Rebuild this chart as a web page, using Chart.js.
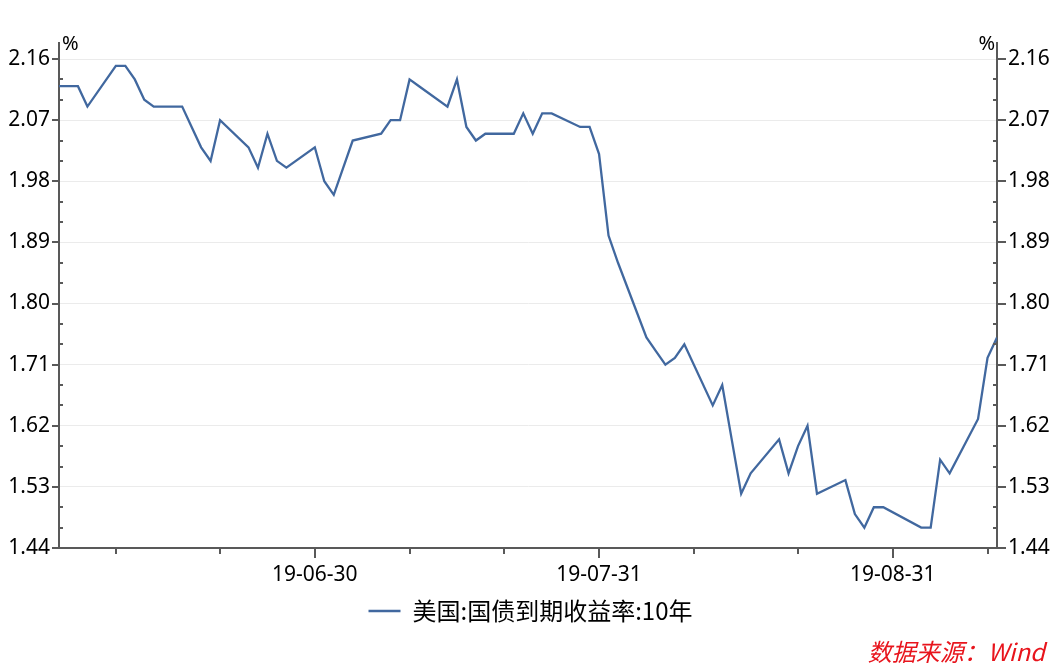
<!DOCTYPE html>
<html>
<head>
<meta charset="utf-8">
<script src="https://cdn.jsdelivr.net/npm/chart.js@4.4.1/dist/chart.umd.min.js"></script>
<style>
  html, body { margin: 0; padding: 0; background: #fff; }
  #wrap { position: relative; width: 1061px; height: 665px; }
  #source {
    position: absolute; right: 16px; top: 633px;
    color: #e8141c; font: italic 24px "Noto Sans CJK SC", sans-serif;
    white-space: nowrap;
  }
</style>
</head>
<body>
<div id="wrap">
  <canvas id="chart" width="1061" height="665"></canvas>
  <div id="source">数据来源：Wind</div>
</div>
<script>
// trading days and 10y yield (%)
const dates = [
  '2019-06-04','2019-06-05','2019-06-06','2019-06-07',
  '2019-06-10','2019-06-11','2019-06-12','2019-06-13','2019-06-14',
  '2019-06-17','2019-06-18','2019-06-19','2019-06-20','2019-06-21',
  '2019-06-24','2019-06-25','2019-06-26','2019-06-27','2019-06-28',
  '2019-07-01','2019-07-02','2019-07-03','2019-07-05',
  '2019-07-08','2019-07-09','2019-07-10','2019-07-11','2019-07-12',
  '2019-07-15','2019-07-16','2019-07-17','2019-07-18','2019-07-19',
  '2019-07-22','2019-07-23','2019-07-24','2019-07-25','2019-07-26',
  '2019-07-29','2019-07-30','2019-07-31','2019-08-01','2019-08-02',
  '2019-08-05','2019-08-06','2019-08-07','2019-08-08','2019-08-09',
  '2019-08-12','2019-08-13','2019-08-14','2019-08-15','2019-08-16',
  '2019-08-19','2019-08-20','2019-08-21','2019-08-22','2019-08-23',
  '2019-08-26','2019-08-27','2019-08-28','2019-08-29','2019-08-30',
  '2019-09-03','2019-09-04','2019-09-05','2019-09-06',
  '2019-09-09','2019-09-10','2019-09-11'
];
const yields = [
  2.12, 2.12, 2.12, 2.09,
  2.15, 2.15, 2.13, 2.10, 2.09,
  2.09, 2.06, 2.03, 2.01, 2.07,
  2.03, 2.00, 2.05, 2.01, 2.00,
  2.03, 1.98, 1.96, 2.04,
  2.05, 2.07, 2.07, 2.13, 2.12,
  2.09, 2.13, 2.06, 2.04, 2.05,
  2.05, 2.08, 2.05, 2.08, 2.08,
  2.06, 2.06, 2.02, 1.90, 1.86,
  1.75, 1.73, 1.71, 1.72, 1.74,
  1.65, 1.68, 1.60, 1.52, 1.55,
  1.60, 1.55, 1.59, 1.62, 1.52,
  1.54, 1.49, 1.47, 1.50, 1.50,
  1.47, 1.47, 1.57, 1.55,
  1.63, 1.72, 1.75
];

const seriesName = '美国:国债到期收益率:10年';
const yMajor = [1.44, 1.53, 1.62, 1.71, 1.80, 1.89, 1.98, 2.07, 2.16];
const yMinor = [1.47, 1.50, 1.56, 1.59, 1.65, 1.68, 1.74, 1.77, 1.83, 1.86, 1.92, 1.95, 2.01, 2.04, 2.10, 2.13];
const xMajorDates = ['2019-07-01', '2019-07-31', '2019-08-31'];
const xMajorLabels = ['19-06-30', '19-07-31', '19-08-31'];
const xMinorDates = ['2019-06-10', '2019-06-21', '2019-07-11', '2019-07-21', '2019-08-10', '2019-08-21', '2019-09-10'];

const dayNum = d => Date.parse(d) / 86400000;
const points = dates.map((d, i) => ({ x: dayNum(d), y: yields[i] }));

const axisColor = '#595959';
const lineColor = '#41689f';

// tick marks (major outside, minor inside on y) and the % units
const axisMarks = {
  id: 'axisMarks',
  afterDraw(chart) {
    const { ctx, chartArea: a } = chart;
    const ys = chart.scales.y, xs = chart.scales.x;
    ctx.save();
    ctx.strokeStyle = axisColor;
    ctx.lineWidth = 2;
    ctx.beginPath();
    yMajor.forEach(v => {
      const p = Math.round(ys.getPixelForValue(v));
      ctx.moveTo(a.left - 7, p); ctx.lineTo(a.left, p);
      ctx.moveTo(a.right, p); ctx.lineTo(a.right + 9, p);
    });
    yMinor.forEach(v => {
      const p = Math.round(ys.getPixelForValue(v));
      ctx.moveTo(a.left, p); ctx.lineTo(a.left + 4, p);
      ctx.moveTo(a.right - 4, p); ctx.lineTo(a.right, p);
    });
    xMajorDates.forEach(d => {
      const p = Math.round(xs.getPixelForValue(dayNum(d)));
      ctx.moveTo(p, a.bottom); ctx.lineTo(p, a.bottom + 10);
    });
    xMinorDates.forEach(d => {
      const p = Math.round(xs.getPixelForValue(dayNum(d)));
      ctx.moveTo(p, a.bottom); ctx.lineTo(p, a.bottom + 6);
    });
    ctx.stroke();
    ctx.fillStyle = '#000';
    ctx.font = '20px "Noto Sans", sans-serif';
    ctx.textBaseline = 'middle';
    ctx.textAlign = 'left';
    ctx.fillText('%', a.left + 3, a.top + 1);
    ctx.textAlign = 'right';
    ctx.fillText('%', a.right - 2, a.top + 1);
    ctx.restore();
  }
};

Chart.defaults.color = '#000';
Chart.defaults.font.family = '"Noto Sans", "Noto Sans CJK SC", sans-serif';

const yAxis = (pos) => ({
  type: 'linear',
  position: pos,
  min: 1.44,
  max: 2.1836,
  afterBuildTicks: s => { s.ticks = yMajor.map(v => ({ value: v })); },
  afterFit: s => { s.width = pos === 'left' ? 59 : 64; },
  grid: {
    drawOnChartArea: pos === 'left',
    drawTicks: false,
    color: '#ebebeb',
    lineWidth: 1
  },
  border: { display: true, color: axisColor, width: 2 },
  ticks: {
    font: { size: 21 },
    padding: pos === 'left' ? 9 : 11,
    callback: v => v.toFixed(2)
  }
});

new Chart(document.getElementById('chart').getContext('2d'), {
  type: 'line',
  data: {
    datasets: [{
      label: seriesName,
      data: points,
      borderColor: lineColor,
      backgroundColor: lineColor,
      borderWidth: 2.3,
      pointRadius: 0,
      tension: 0
    }]
  },
  options: {
    responsive: false,
    animation: false,
    layout: { padding: { top: 43, bottom: 32, left: 0, right: 0 } },
    scales: {
      x: {
        type: 'linear',
        min: dayNum(dates[0]),
        max: dayNum(dates[dates.length - 1]),
        afterBuildTicks: s => { s.ticks = xMajorDates.map(d => ({ value: dayNum(d) })); },
        afterFit: s => { s.height = 43; },
        grid: { display: false, drawTicks: false },
        border: { display: true, color: axisColor, width: 2 },
        ticks: {
          autoSkip: false,
          maxRotation: 0,
          padding: 14,
          font: { size: 21 },
          callback: (v, i) => xMajorLabels[i]
        }
      },
      y: yAxis('left'),
      y2: yAxis('right')
    },
    plugins: {
      legend: {
        position: 'bottom',
        labels: {
          usePointStyle: true,
          pointStyle: 'line',
          pointStyleWidth: 32,
          font: { size: 24, family: '"Noto Sans CJK SC", sans-serif' },
          color: '#000',
          padding: 8
        }
      },
      tooltip: { enabled: false }
    }
  },
  plugins: [axisMarks]
});
</script>
</body>
</html>
